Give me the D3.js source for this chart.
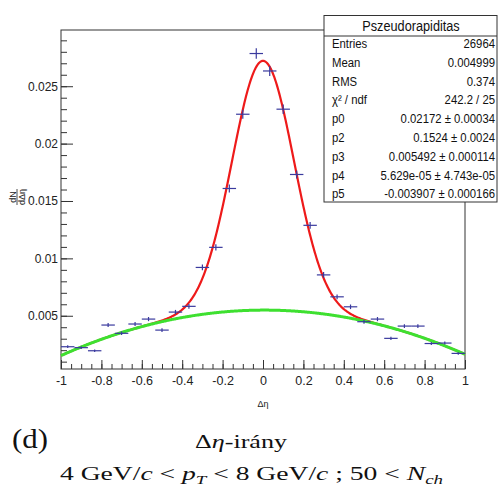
<!DOCTYPE html>
<html><head><meta charset="utf-8">
<script src="https://cdn.jsdelivr.net/npm/d3@7"></script>
<style>body{margin:0;background:#fff}svg{display:block}</style>
</head><body><svg id="c" width="498" height="490"></svg>
<script>
// ---- data ----
const etaCenters = [-0.9667,-0.9,-0.8333,-0.7667,-0.7,-0.6333,-0.5667,-0.5,-0.4333,-0.3667,-0.3,-0.2333,-0.1667,-0.1,-0.0333,
                    0.0333,0.1,0.1667,0.2333,0.3,0.3667,0.4333,0.5,0.5667,0.6333,0.7,0.7667,0.8333,0.9,0.9667];
const binHalfWidth = 0.0333;
const dNdEta = [0.00230,0.00222,0.00195,0.00419,0.00347,0.00428,0.00471,0.00375,0.00532,0.00582,0.00921,0.01096,0.01609,0.02256,0.02785,
                0.02633,0.02300,0.01731,0.01288,0.00856,0.00665,0.00578,0.00448,0.00471,0.00303,0.00410,0.00410,0.00258,0.00262,0.00172];
const dNdEtaErr = [0.00012,0.00012,0.00011,0.00017,0.00015,0.00017,0.00018,0.00016,0.00019,0.00020,0.00025,0.00028,0.00034,0.00040,0.00045,
                   0.00044,0.00041,0.00035,0.00030,0.00025,0.00021,0.00020,0.00018,0.00018,0.00014,0.00017,0.00017,0.00013,0.00013,0.00011];
// fit parameters: p0*exp(-x^2/(2 p2^2)) + p3 + p4 x + p5 x^2
const fitParams = {p0:0.02172, p2:0.1524, p3:0.005492, p4:5.629e-05, p5:-0.003907};
const xTickValues = [-1,-0.8,-0.6,-0.4,-0.2,0,0.2,0.4,0.6,0.8,1];
const xTickLabels = ["-1","-0.8","-0.6","-0.4","-0.2","0","0.2","0.4","0.6","0.8","1"];
const yTickValues = [0.005,0.01,0.015,0.02,0.025];
const yTickLabels = ["0.005","0.01","0.015","0.02","0.025"];
const statsTitle = "Pszeudorapiditas";
const statsLabels = ["Entries","Mean","RMS","χ² / ndf","p0","p2","p3","p4","p5"];
const statsValues = ["26964","0.004999","0.374","242.2 / 25","0.02172 ± 0.00034","0.1524 ± 0.0024","0.005492 ± 0.000114","5.629e-05 ± 4.743e-05","-0.003907 ± 0.000166"];

// ---- drawing ----
const svg = d3.select("#c");
const L=61, R=465, T=30, B=369;
const x = d3.scaleLinear().domain([-1,1]).range([L,R]);
const y = d3.scaleLinear().domain([0.00036,0.0299]).range([B,T]);
const sans = "'Liberation Sans', Arial, sans-serif";

// frame
svg.append("rect").attr("x",L).attr("y",T).attr("width",R-L).attr("height",B-T)
  .attr("fill","none").attr("stroke","#333").attr("stroke-width",1);

function styleAxis(g){ g.select(".domain").remove(); g.selectAll("line").attr("stroke","#333"); }
// y ticks (inside)
svg.append("g").attr("transform",`translate(${L},0)`)
  .call(d3.axisRight(y).tickValues(d3.range(1,30).map(i=>i*0.001)).tickSize(6).tickFormat(""))
  .call(styleAxis);
svg.append("g").attr("transform",`translate(${L},0)`)
  .call(d3.axisRight(y).tickValues(yTickValues).tickSize(12).tickFormat(""))
  .call(styleAxis);
const yl = svg.append("g").attr("transform",`translate(${L},0)`)
  .call(d3.axisLeft(y).tickValues(yTickValues).tickSize(0).tickPadding(3).tickFormat((d,i)=>yTickLabels[i]));
yl.select(".domain").remove();
yl.selectAll("text").attr("font-family",sans).attr("font-size",12).attr("fill","#222");

// x ticks (inside)
svg.append("g").attr("transform",`translate(0,${B})`)
  .call(d3.axisTop(x).tickValues(d3.range(-20,21).map(i=>i*0.05)).tickSize(5).tickFormat(""))
  .call(styleAxis);
svg.append("g").attr("transform",`translate(0,${B})`)
  .call(d3.axisTop(x).tickValues(xTickValues).tickSize(9).tickFormat(""))
  .call(styleAxis);
const xl = svg.append("g").attr("transform",`translate(0,${B})`)
  .call(d3.axisBottom(x).tickValues(xTickValues).tickSize(0).tickPadding(7).tickFormat((d,i)=>xTickLabels[i]));
xl.select(".domain").remove();
xl.selectAll("text").attr("font-family",sans).attr("font-size",12.5).attr("fill","#222");

// axis titles
svg.append("text").attr("x",x(0)).attr("y",407).attr("text-anchor","middle")
  .attr("font-family",sans).attr("font-size",9).attr("fill","#222").text("Δη");
const yt = svg.append("g").attr("transform","translate(17,197) rotate(-90)");
yt.append("text").attr("x",0).attr("y",-1.5).attr("text-anchor","middle").attr("font-family",sans).attr("font-size",9).attr("fill","#222").text("dN");
yt.append("line").attr("x1",-8).attr("x2",8).attr("y1",0).attr("y2",0).attr("stroke","#222").attr("stroke-width",0.8);
yt.append("text").attr("x",0).attr("y",8).attr("text-anchor","middle").attr("font-family",sans).attr("font-size",9).attr("fill","#222").text("dΔη");

// fit curves
const fx = d3.range(-1, 1.00001, 0.004);
const bg = v => fitParams.p3 + fitParams.p4*v + fitParams.p5*v*v;
const full = v => fitParams.p0*Math.exp(-0.5*(v/fitParams.p2)**2) + bg(v);
const line = f => d3.line().x(d=>x(d)).y(d=>y(f(d)))(fx);
svg.append("path").attr("d",line(full)).attr("fill","none").attr("stroke","#ee1a1a").attr("stroke-width",2.2);
svg.append("path").attr("d",line(bg)).attr("fill","none").attr("stroke","#3ee030").attr("stroke-width",3);

// data crosses
const pts = svg.append("g").attr("stroke","#3a3a9e").attr("stroke-width",1.2);
etaCenters.forEach((c,i)=>{
  pts.append("line").attr("x1",x(c-binHalfWidth)).attr("x2",x(c+binHalfWidth)).attr("y1",y(dNdEta[i])).attr("y2",y(dNdEta[i]));
  pts.append("line").attr("x1",x(c)).attr("x2",x(c)).attr("y1",y(dNdEta[i]-dNdEtaErr[i])).attr("y2",y(dNdEta[i]+dNdEtaErr[i]));
});

// stats box
const sb = svg.append("g");
sb.append("rect").attr("x",324).attr("y",15.5).attr("width",173).attr("height",186.5)
  .attr("fill","#fff").attr("stroke","#333").attr("stroke-width",1);
sb.append("line").attr("x1",324).attr("x2",497).attr("y1",36).attr("y2",36).attr("stroke","#333").attr("stroke-width",1);
sb.append("text").attr("transform","translate(411,31) scale(0.82,1)").attr("text-anchor","middle").attr("font-family",sans)
  .attr("font-size",15.5).attr("fill","#111").text(statsTitle);
statsLabels.forEach((lab,i)=>{
  const by = 48 + i*18.8;
  sb.append("text").attr("transform",`translate(332,${by}) scale(0.84,1)`).attr("font-family",sans).attr("font-size",13.5).attr("fill","#111").text(lab);
  sb.append("text").attr("transform",`translate(495,${by}) scale(0.84,1)`).attr("text-anchor","end").attr("font-family",sans).attr("font-size",13.5).attr("fill","#111").text(statsValues[i]);
});

// captions
const serif = "'Liberation Serif', 'DejaVu Serif', serif";
svg.append("text").attr("x",12).attr("y",448).attr("font-family",serif).attr("font-size",28).attr("fill","#111")
  .attr("textLength",36).attr("lengthAdjust","spacingAndGlyphs").text("(d)");
const c1 = svg.append("text").attr("x",195).attr("y",448).attr("font-family",serif).attr("font-size",19).attr("fill","#111")
  .attr("textLength",92).attr("lengthAdjust","spacingAndGlyphs");
c1.append("tspan").text("Δ");
c1.append("tspan").attr("font-style","italic").text("η");
c1.append("tspan").text("-irány");
const c2 = svg.append("text").attr("x",60).attr("y",480).attr("font-family",serif).attr("font-size",19).attr("fill","#111")
  .attr("textLength",383).attr("lengthAdjust","spacingAndGlyphs");
c2.append("tspan").text("4 GeV/");
c2.append("tspan").attr("font-style","italic").text("c");
c2.append("tspan").text(" < ");
c2.append("tspan").attr("font-style","italic").text("p");
c2.append("tspan").attr("font-style","italic").attr("font-size",13).attr("dy",4).text("T");
c2.append("tspan").attr("dy",-4).text(" < 8 GeV/");
c2.append("tspan").attr("font-style","italic").text("c");
c2.append("tspan").text(" ; 50 < ");
c2.append("tspan").attr("font-style","italic").text("N");
c2.append("tspan").attr("font-style","italic").attr("font-size",13).attr("dy",4).text("ch");
</script></body></html>
